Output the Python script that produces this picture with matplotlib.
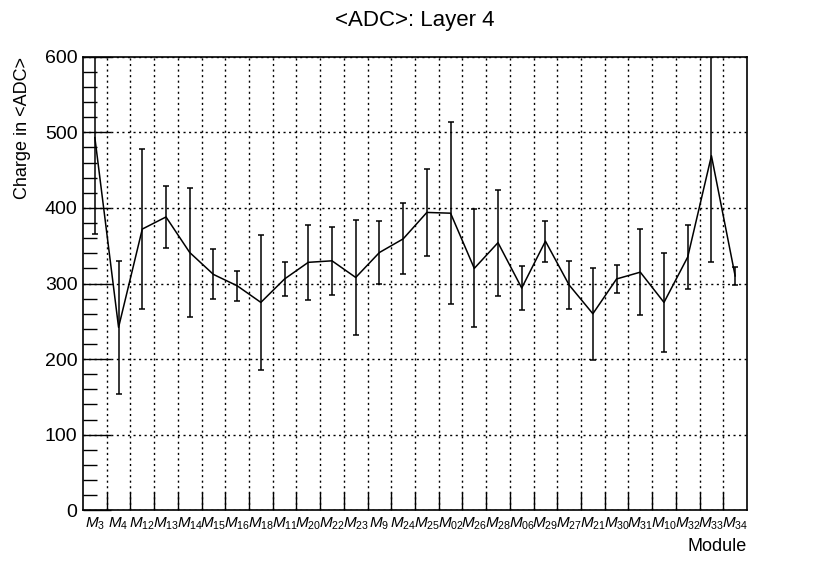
import matplotlib
matplotlib.use("Agg")
import matplotlib.pyplot as plt
from matplotlib.ticker import FixedLocator, MultipleLocator
import numpy as np

plt.rcParams['font.family'] = ['Liberation Sans', 'DejaVu Sans']
plt.rcParams['mathtext.fontset'] = 'custom'
plt.rcParams['mathtext.rm'] = 'Liberation Sans'
plt.rcParams['mathtext.it'] = 'Liberation Sans:italic'

modules = ["3", "4", "12", "13", "14", "15", "16", "18", "11", "20", "22", "23", "9", "24",
           "25", "02", "26", "28", "06", "29", "27", "21", "30", "31", "10", "32", "33", "34"]
mean_adc = [493, 242, 372, 388, 341, 312, 297, 275, 306, 328, 330, 308, 341, 359,
            394, 393, 320, 354, 294, 356, 298, 260, 306, 315, 275, 335, 469, 310]
err_adc = [128, 88, 106, 41, 85, 33, 20, 89, 23, 50, 45, 76, 42, 47,
           58, 120, 78, 70, 29, 27, 32, 61, 18, 57, 66, 42, 140, 12]

labels = [r'$M_{%s}$' % m for m in modules]
x = np.arange(len(modules))

fig = plt.figure(figsize=(8.3, 5.67), dpi=100)
ax = fig.add_axes([0.1, 0.1, 0.8, 0.8])

ax.plot(x, mean_adc, color='black', lw=1.1, zorder=3)
ax.errorbar(x, mean_adc, yerr=err_adc, fmt='none', ecolor='black', elinewidth=1.1,
            capsize=2, capthick=1.1, zorder=3)

ax.set_xlim(-0.5, len(modules) - 0.5)
ax.set_ylim(0, 600)

ax.xaxis.set_major_locator(FixedLocator(x))
ax.set_xticklabels(labels, fontsize=11)
ax.xaxis.set_minor_locator(FixedLocator(np.arange(0.5, len(modules) - 0.5, 1.0)))
ax.tick_params(axis='x', which='major', length=0, pad=4)
ax.tick_params(axis='x', which='minor', direction='in', length=13, width=1.0, top=False)

ax.yaxis.set_major_locator(MultipleLocator(100))
ax.yaxis.set_minor_locator(MultipleLocator(20))
ax.tick_params(axis='y', which='major', direction='in', length=20, width=1.0, labelsize=14, right=False, pad=4)
ax.tick_params(axis='y', which='minor', direction='in', length=10, width=1.0, right=False)

ax.grid(True, axis='y', which='major', linestyle=(0, (1.5, 2.5)), color='black', lw=1.0)
ax.grid(True, axis='x', which='minor', linestyle=(0, (1.5, 2.5)), color='black', lw=1.0)
ax.set_axisbelow(True)

for sp in ax.spines.values():
    sp.set_linewidth(1.2)

ax.set_ylabel('Charge in <ADC>', fontsize=13, loc='top', labelpad=10)
ax.set_xlabel('Module', fontsize=13, loc='right', labelpad=4)
fig.suptitle('<ADC>: Layer 4', fontsize=16, y=0.982)

fig.savefig('out.png', dpi=100)
